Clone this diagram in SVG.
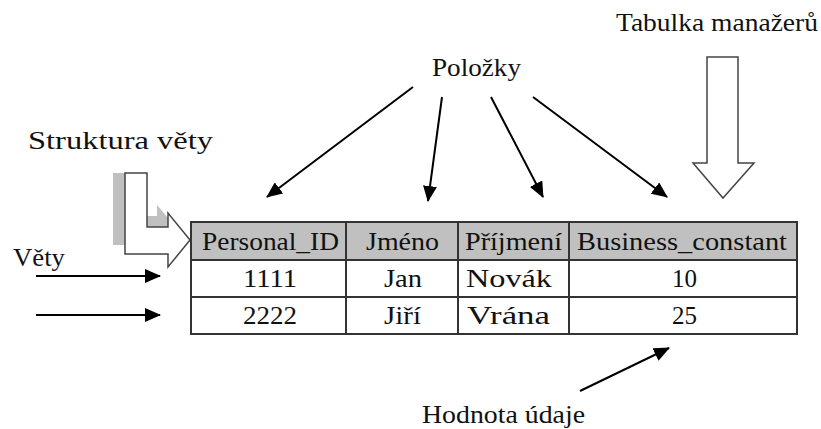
<svg xmlns="http://www.w3.org/2000/svg" width="821" height="429" viewBox="0 0 821 429" font-family="'Liberation Serif', 'Times New Roman', Times, serif">
<style>
text{font-family:'Liberation Serif','Times New Roman',Times,serif;font-size:25px;fill:#111}
.ln{stroke:#000;stroke-width:2;fill:none}
.tb{stroke:#333;stroke-width:2}
.blk{fill:#fff;stroke:#444;stroke-width:1.5}
</style>
<defs>
<marker id="ah" markerUnits="userSpaceOnUse" markerWidth="16" markerHeight="14" refX="15" refY="7" orient="auto">
<path d="M0,0 L16,7 L0,14 z" fill="#000"/>
</marker>
</defs>
<rect width="821" height="429" fill="#fff"/>

<g id="table">
<rect x="191" y="222" width="606" height="38" fill="#c0c0c0" class="tb"/>
<rect x="191" y="222" width="606" height="112" fill="none" class="tb"/>
<line x1="191" y1="297" x2="797" y2="297" class="tb"/>
<line x1="346" y1="222" x2="346" y2="334" class="tb"/>
<line x1="458" y1="222" x2="458" y2="334" class="tb"/>
<line x1="569" y1="222" x2="569" y2="334" class="tb"/>
<text x="202" y="250" textLength="137" lengthAdjust="spacingAndGlyphs">Personal_ID</text>
<text x="366" y="250" textLength="73" lengthAdjust="spacingAndGlyphs">Jméno</text>
<text x="465" y="250" textLength="97" lengthAdjust="spacingAndGlyphs">Příjmení</text>
<text x="577" y="250" textLength="210" lengthAdjust="spacingAndGlyphs">Business_constant</text>
<text x="243" y="287" textLength="54" lengthAdjust="spacingAndGlyphs">1111</text>
<text x="384" y="287" textLength="38" lengthAdjust="spacingAndGlyphs">Jan</text>
<text x="466" y="287" textLength="86" lengthAdjust="spacingAndGlyphs">Novák</text>
<text x="672" y="287" textLength="25" lengthAdjust="spacingAndGlyphs">10</text>
<text x="243" y="324" textLength="54" lengthAdjust="spacingAndGlyphs">2222</text>
<text x="384" y="324" textLength="37" lengthAdjust="spacingAndGlyphs">Jiří</text>
<text x="467" y="324" textLength="83" lengthAdjust="spacingAndGlyphs">Vrána</text>
<text x="672" y="324" textLength="25" lengthAdjust="spacingAndGlyphs">25</text>
</g>

<g id="polozky"><text x="432" y="76" textLength="89" lengthAdjust="spacingAndGlyphs">Položky</text></g>
<g id="tabulka-manazeru"><text x="616" y="31" textLength="202" lengthAdjust="spacingAndGlyphs">Tabulka manažerů</text></g>
<g id="struktura-vety"><text x="28" y="149" textLength="185" lengthAdjust="spacingAndGlyphs">Struktura věty</text></g>
<g id="vety"><text x="13" y="266" textLength="52" lengthAdjust="spacingAndGlyphs">Věty</text></g>
<g id="hodnota-udaje"><text x="422" y="423" textLength="163" lengthAdjust="spacingAndGlyphs">Hodnota údaje</text></g>

<g id="block-arrow-down">
<path class="blk" d="M707,57 L738,57 L738,163 L754,163 L723,198 L693,163 L707,163 Z"/>
</g>

<g id="bent-arrow">
<rect x="113" y="173" width="12" height="72" fill="#c0c0c0"/>
<path d="M147,216 L157,216 L157,205 L168,218 L168,227 L147,227 Z" fill="#c0c0c0"/>
<path class="blk" d="M125,173 L147,173 L147,227 L168,227 L168,213 L190,240 L168,267 L168,254 L125,254 Z"/>
</g>

<g id="connectors">
<line class="ln" x1="413" y1="87" x2="267" y2="197" marker-end="url(#ah)"/>
<line class="ln" x1="442" y1="97" x2="428" y2="201" marker-end="url(#ah)"/>
<line class="ln" x1="491" y1="97" x2="543" y2="197" marker-end="url(#ah)"/>
<line class="ln" x1="533" y1="97" x2="667" y2="197" marker-end="url(#ah)"/>
<line class="ln" x1="36" y1="276" x2="160" y2="276" marker-end="url(#ah)"/>
<line class="ln" x1="36" y1="315" x2="160" y2="315" marker-end="url(#ah)"/>
<line class="ln" x1="580" y1="391" x2="669" y2="348" marker-end="url(#ah)"/>
</g>
</svg>
